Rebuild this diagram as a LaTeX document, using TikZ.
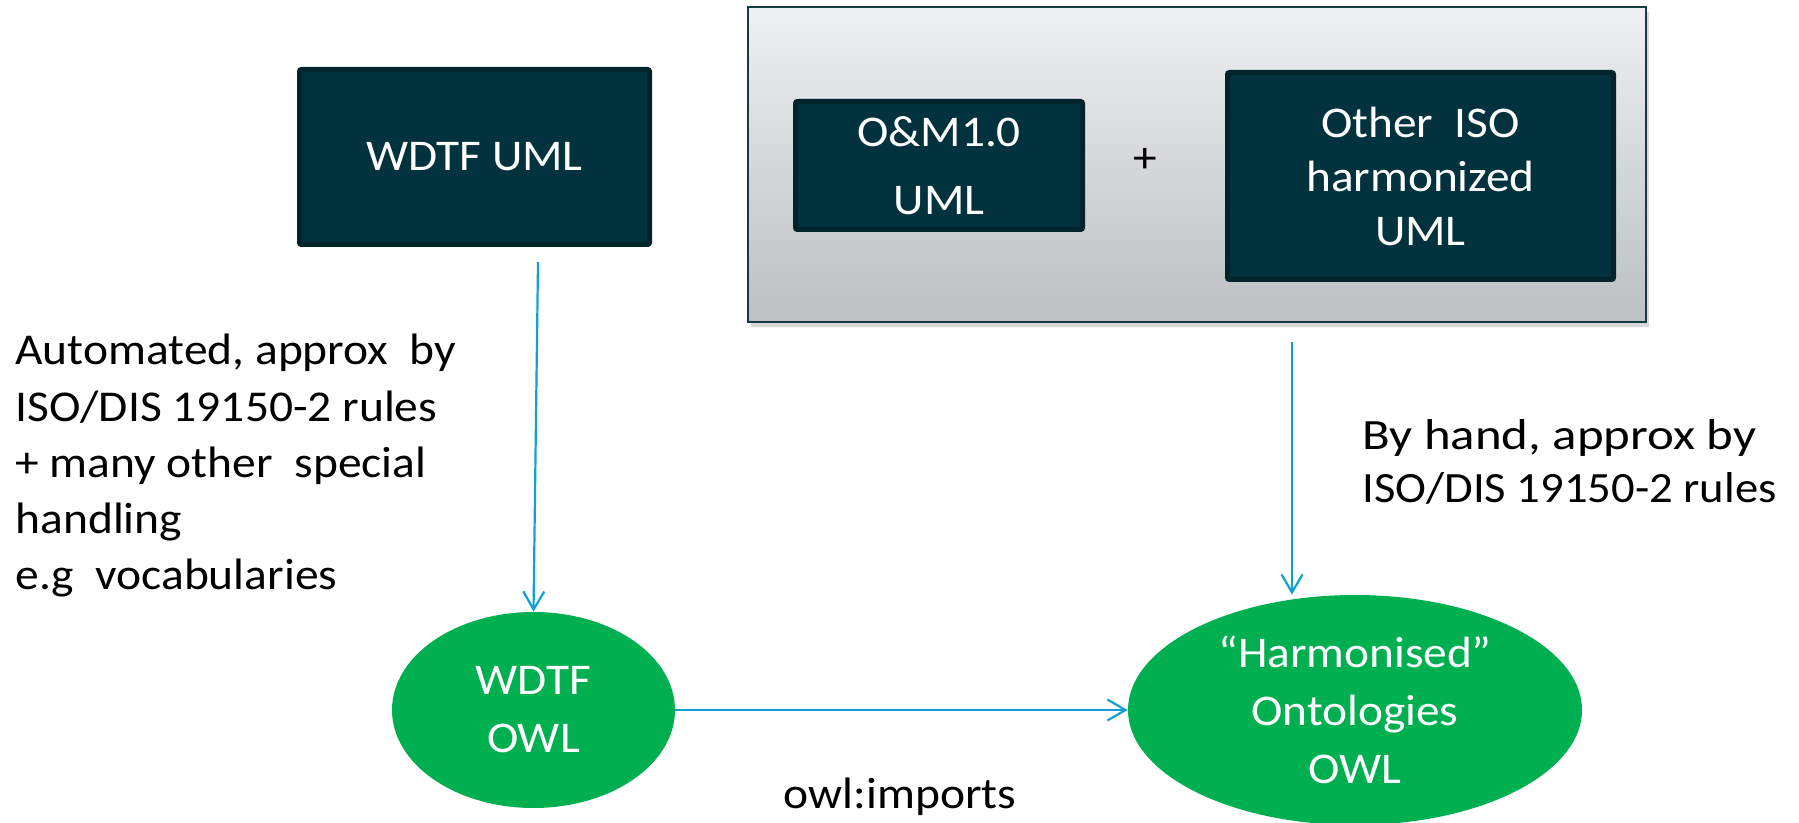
\documentclass[tikz,border=0pt]{standalone}
\usepackage{graphicx}
\usepackage{fontspec}
\setmainfont{Carlito}[FakeStretch=1.08]
\usetikzlibrary{arrows.meta,shapes.geometric,shadows}
\definecolor{darkbox}{HTML}{02323D}
\definecolor{darkedge}{HTML}{01232B}
\definecolor{owlgreen}{HTML}{00AF50}
\definecolor{arrowblue}{HTML}{10A0D2}
\definecolor{greytop}{HTML}{EEF0F1}
\definecolor{greybot}{HTML}{BCC0C3}
\definecolor{greyedge}{HTML}{163A44}
\begin{document}
\begin{tikzpicture}[x=0.5pt,y=-0.5pt,
  umlbox/.style={rectangle, fill=darkbox, draw=darkedge, line width=2.5pt, rounded corners=1pt, text=white, align=center, inner sep=0pt, font=\fontsize{21.9pt}{26.25pt}\selectfont},
  owlnode/.style={ellipse, fill=owlgreen, text=white, align=center, inner sep=0pt, font=\fontsize{21.9pt}{29pt}\selectfont},
  arr/.style={draw=arrowblue, line width=1.1pt, -{Straight Barb[length=9pt,width=10.5pt]}},
  lbl/.style={inner sep=0pt, font=\fontsize{22pt}{28.1pt}\selectfont}
]
\useasboundingbox (0,0) rectangle (1799,823);
\fill[white] (0,0) rectangle (1799,823);

\node[draw=greyedge, line width=1pt, top color=greytop, bottom color=greybot,
      minimum width=449pt, minimum height=157.5pt, inner sep=0pt,
      drop shadow={shadow xshift=1.5pt, shadow yshift=-2.5pt, opacity=0.25, fill=black!60}] (group) at (1197,164.5) {};

\node[umlbox, minimum width=175pt, minimum height=87.5pt] (wdtfuml) at (474.5,157) {WDTF UML};
\node[umlbox, minimum width=143.5pt, minimum height=64pt, font=\fontsize{21.9pt}{34pt}\selectfont] (om) at (939,165.5) {O\&M1.0\\UML};
\node[umlbox, minimum width=193pt, minimum height=103.5pt, font=\fontsize{21.9pt}{27pt}\selectfont] (iso) at (1420.5,176) {Other\ \ ISO\\harmonized\\UML};
\node[inner sep=0pt, font=\fontsize{21.9pt}{26pt}\selectfont] (plus) at (1145,160) {+};

\node[owlnode, minimum width=141.5pt, minimum height=98pt] (wdtfowl) at (533.5,710) {WDTF\\OWL};
\node[owlnode, minimum width=227pt, minimum height=115pt] (harm) at (1355,710) {“Harmonised”\\Ontologies\\OWL};

\node[lbl, anchor=base west] (auto) at (15,365) {\begin{tabular}[t]{@{}l@{}}Automated, approx\ \ by\\ISO/DIS 19150-2 rules\\+ many other\ \ special\\handling\\e.g\ \ vocabularies\end{tabular}};
\node[lbl, anchor=base west, font=\fontsize{21.6pt}{26.5pt}\selectfont] (hand) at (1362,450) {\begin{tabular}[t]{@{}l@{}}\scalebox{1.09}[1]{By hand, approx by}\\ISO/DIS 19150-2 rules\end{tabular}};
\node[lbl, anchor=base] (imp) at (900,808) {owl:imports};

\coordinate (s1) at (538,262);
\draw[arr] (s1) -- (wdtfowl.north);
\coordinate (s2) at (1292,342);
\draw[arr] (s2) -- (s2 |- harm.north);
\draw[arr] (wdtfowl.east) -- (harm.west);
\end{tikzpicture}
\end{document}
